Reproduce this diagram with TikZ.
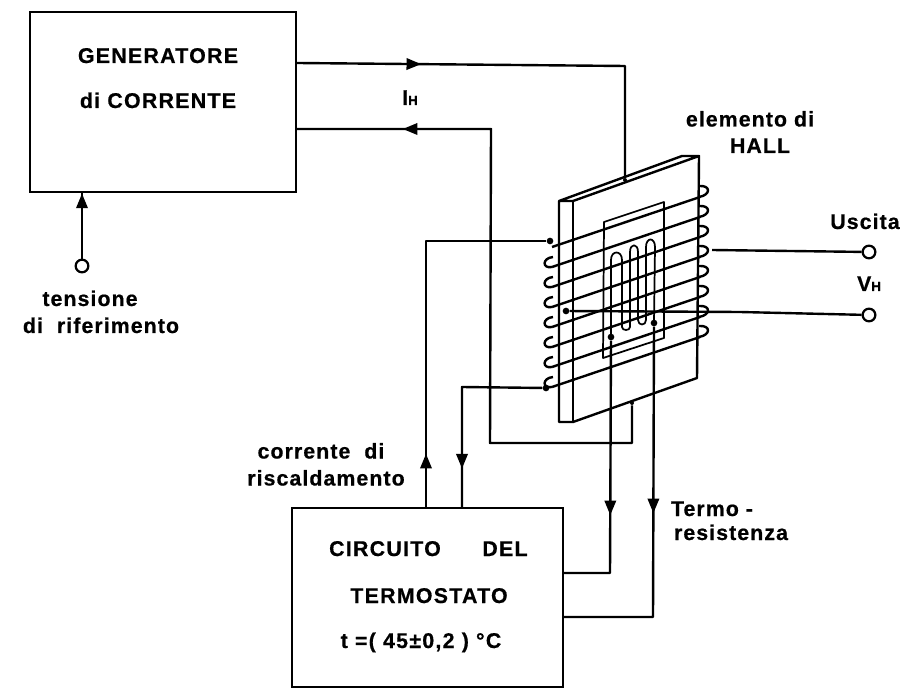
\documentclass[tikz,border=0pt]{standalone}
\usepackage{fontspec}
\setmainfont{Liberation Sans}
\newfontfamily\blockfont[LetterSpace=6,BoldFeatures={FakeBold=0.6}]{Liberation Sans}
\newfontfamily\notefont[LetterSpace=5,BoldFeatures={FakeBold=0.6}]{Liberation Sans}
\usetikzlibrary{arrows.meta,decorations.markings}
\tikzset{
  % wire with an arrow at a given distance along it
  flowmark/.style={
    decoration={markings, mark=at position #1 with {\arrow{Triangle[length=11pt,width=8.5pt]}}},
    postaction={decorate}
  },
  wire/.style={line width=1.8pt, line join=round},
  thinwire/.style={line width=1.3pt, line join=round},
  % block
  blockbox/.style={rectangle, draw, line width=1.8pt, inner sep=0pt},
  % soldered point
  soldernode/.style={circle, fill=black, inner sep=0pt, minimum size=5pt},
  % open output
  termnode/.style={circle, draw, fill=white, line width=1.7pt, inner sep=0pt, minimum size=9.5pt},
  % labels
  notetext/.style={font=\fontsize{16}{16}\selectfont\notefont\bfseries, inner sep=0pt, anchor=base},
  blocktext/.style={font=\fontsize{16}{16}\selectfont\blockfont\bfseries, inner sep=0pt, anchor=base},
}
\begin{document}
\begin{tikzpicture}[x=0.75pt,y=-0.75pt]
  \useasboundingbox (0,0) rectangle (906,691);

  % ── blocks ──
  \node[blockbox, minimum width=199.5pt, minimum height=135pt] (gen) at (163,102) {};
  \node[blockbox, minimum width=203.25pt, minimum height=134.25pt] (term) at (427.5,597.5) {};
  \node[blocktext] (genA) at (158,63) {GENERATORE};
  \node[blocktext] (genB) at (158,108) {di CORRENTE};
  \node[blocktext] (termA) at (385,556) {CIRCUITO};
  \node[blocktext] (termB) at (505,556) {DEL};
  \node[blocktext] (termC) at (429,603) {TERMOSTATO};
  \node[blocktext] (termD) at (421,648) {t =( 45±0,2 ) °C};

  % ── plate ──
  \draw[wire] (559,201) -- (559,422) -- (573,422) -- (697,378) -- (699,156) -- (682,156) -- (559,201) -- (573,201) -- (699,156);
  \draw[wire] (573,201) -- (573,422);
  \draw[thinwire] (604,222) -- (664,202) -- (664,338) -- (603,358) -- cycle;

  % serpentine
  \draw[thinwire] (611,337) -- (611,260) .. controls (611,250) and (622,250) .. (622,260)
    -- (622,327) .. controls (622,331) and (630,331) .. (630,327)
    -- (630,252) .. controls (630,243) and (638,243) .. (638,252)
    -- (638,320) .. controls (638,326) and (646,326) .. (646,320)
    -- (646,247) .. controls (646,237) and (655,237) .. (655,247) -- (654,323);

  % coil turns
  \foreach \i in {0,...,7}{
    \draw[wire] (552,247+20*\i) -- (700,197+20*\i);
    \draw[wire] (699,197+20*\i) .. controls (711,195+20*\i) and (711,185+20*\i) .. (699,186+20*\i);
  }
  \foreach \i in {1,...,7}{
    \draw[wire] (552,247+20*\i) .. controls (542,249+20*\i) and (542,238+20*\i) .. (553,237+20*\i);
  }

  % ── soldered points and outputs ──
  \node[soldernode] (coilA) at (550,241) {};
  \node[soldernode] (coilB) at (546,388) {};
  \node[soldernode] (hallA) at (566,311) {};
  \node[soldernode] (rtdA) at (611,337) {};
  \node[soldernode] (rtdB) at (654,323) {};
  \node[soldernode, minimum size=3pt] (topC) at (625,180) {};
  \node[soldernode, minimum size=3pt] (botC) at (632,403) {};
  \node[termnode] (ref) at (82,266) {};
  \node[termnode] (outA) at (869,252) {};
  \node[termnode] (outB) at (869,315) {};
  \coordinate (hallB) at (712,250);

  % ── connectors ──
  \draw[wire, flowmark=93pt] (gen.east |- 0,63) -- (625,66) -- (topC);
  \draw[wire, flowmark=436.5pt] (botC) -- (632,443) -- (490,443) -- (491,129) -- (gen.east |- 0,129);
  \draw[wire, flowmark=48.75pt] (ref) -- (gen.south -| ref);
  \draw[wire] (hallB) -- (outA);
  \draw[wire] (hallA) -- (740,312) -- (outB);
  \draw[wire, flowmark=39.75pt] (term.north -| 426,0) -- (426,241) -- (coilA);
  \draw[wire, flowmark=121.5pt] (coilB) -- (462,387) -- (term.north -| 462,0);
  \draw[wire, flowmark=131pt] (rtdA) -- (610,573) -- (term.east |- 0,573);
  \draw[wire, flowmark=140pt] (rtdB) -- (653,617) -- (term.east |- 0,617);

  % ── labels ──
  \node[notetext] (ih) at (410,105) {I{\fontsize{10}{10}\selectfont H}};
  \node[notetext] (hallTxtA) at (750,126.5) {elemento di};
  \node[notetext] (hallTxtB) at (760,153) {HALL};
  \node[notetext] (usc) at (865,229) {Uscita};
  \node[notetext] (vh) at (869,291) {V{\fontsize{10}{10}\selectfont H}};
  \node[notetext] (refTxtA) at (90,306) {tensione};
  \node[notetext] (refTxtB) at (101,333) {di\ \ riferimento};
  \node[notetext] (heatTxtA) at (321,458.5) {corrente\ \ di};
  \node[notetext] (heatTxtB) at (326,485.5) {riscaldamento};
  \node[notetext] (rtdTxtA) at (712,516) {Termo -};
  \node[notetext] (rtdTxtB) at (731,540) {resistenza};
\end{tikzpicture}
\end{document}
